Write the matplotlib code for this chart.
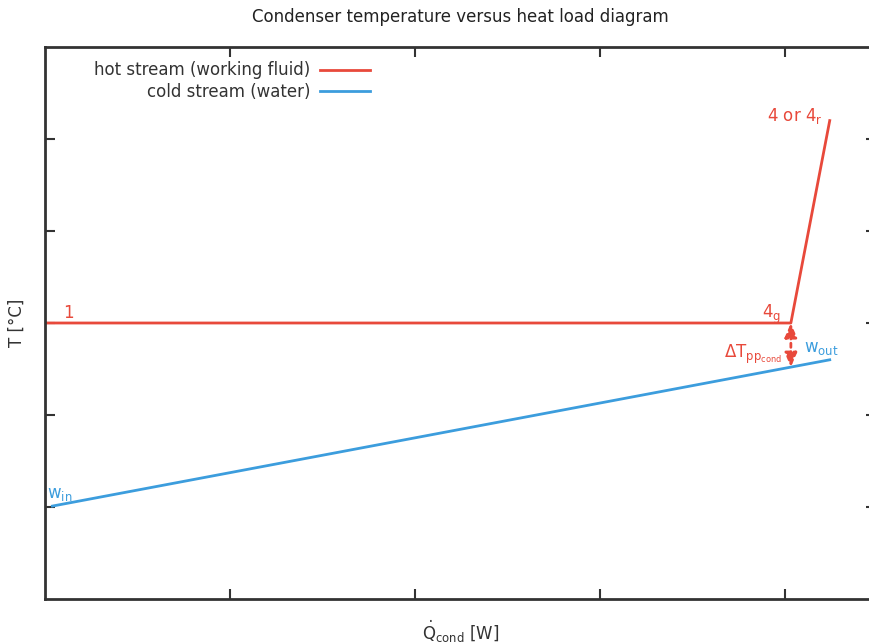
import numpy as np
import matplotlib.pyplot as plt

# heat load (arbitrary units) and temperature (arbitrary units)
hot_q = [0.0, 4.03, 4.24]
hot_t = [3.0, 3.0, 5.2]
cold_q = [0.04, 4.24]
cold_t = [1.01, 2.60]
pinch_q = 4.03
pinch_hot_t = 3.0
pinch_cold_t = 2.52

x_ticks = [1, 2, 3, 4]
y_ticks = [1, 2, 3, 4, 5]

red = '#e8493b'
blue = '#3c9ddd'
dark = '#333333'

fig = plt.figure(figsize=(8.69, 6.43), dpi=100)
ax = fig.add_axes([45 / 869, 44 / 643, 831 / 869, 552 / 643])

ax.plot(hot_q, hot_t, color=red, lw=2, label='hot stream (working fluid)')
ax.plot(cold_q, cold_t, color=blue, lw=2, label='cold stream (water)')

# pinch point temperature difference
ax.annotate('', xy=(pinch_q, pinch_cold_t), xytext=(pinch_q, pinch_hot_t),
            arrowprops=dict(arrowstyle='<|-|>,head_length=0.7,head_width=0.3', color=red,
                            lw=2, ls=(0, (1.5, 1.5)), mutation_scale=12,
                            shrinkA=0, shrinkB=0))

ax.text(0.1, 3.05, '1', color=red, fontsize=12)
ax.text(3.98, 3.05, r'4$_\mathrm{g}$', color=red, fontsize=12, ha='right')
ax.text(4.2, 5.2, r'4 or 4$_\mathrm{r}$', color=red, fontsize=12, ha='right')
ax.text(3.98, 2.62, r'$\Delta\mathrm{T}_{\mathrm{pp}_{\mathrm{cond}}}$', color=red,
        fontsize=12, ha='right')
ax.text(4.1, 2.68, r'w$_\mathrm{out}$', color=blue, fontsize=12)
ax.text(0.01, 1.1, r'w$_\mathrm{in}$', color=blue, fontsize=12)

ax.set_xlim(0, 4.49)
ax.set_ylim(0, 6)
ax.set_xticks(x_ticks)
ax.set_yticks(y_ticks)
ax.tick_params(direction='in', length=7, width=1.5, color=dark,
               labelbottom=False, labelleft=False, top=True, right=True)
for s in ax.spines.values():
    s.set_linewidth(2)
    s.set_color(dark)

ax.legend(loc='upper left', bbox_to_anchor=(0.045, 0.995), frameon=False, markerfirst=False,
          fontsize=12, handlelength=3.0, handletextpad=0.6, labelspacing=0.2,
          borderaxespad=0.3)
for t in ax.get_legend().get_texts():
    t.set_ha('right')
    t.set_color(dark)

ax.set_title('Condenser temperature versus heat load diagram', fontsize=12, pad=18,
             color='#222222')
ax.set_xlabel(r'$\dot{\mathrm{Q}}_{\mathrm{cond}}$ [W]', fontsize=12, labelpad=14, color=dark)
ax.set_ylabel('T [°C]', fontsize=12, labelpad=14, color=dark)

fig.savefig('out.png', dpi=100)
